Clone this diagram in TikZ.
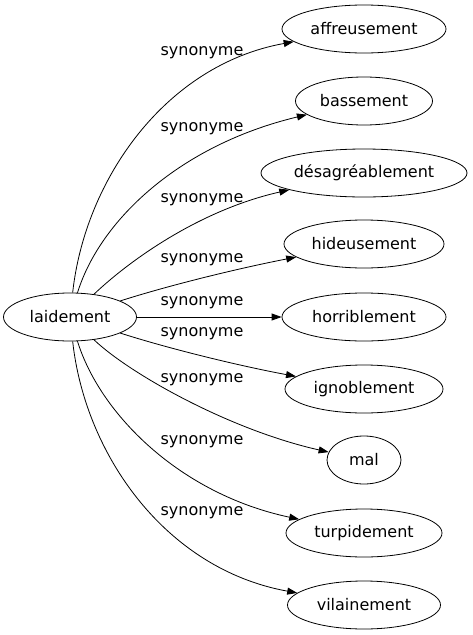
\documentclass[tikz,border=0pt]{standalone}
\usepackage{fontspec}
\setmainfont{DejaVu Sans}
\usetikzlibrary{arrows.meta,shapes.geometric}

\begin{document}
\begin{tikzpicture}[x=1pt, y=-1pt, >={Triangle[length=10pt,width=7pt]},
    font=\fontsize{16}{19}\selectfont,
    word/.style={ellipse, draw, line width=0.8pt, minimum height=48pt, inner sep=0pt},
    syn/.style={inner sep=0pt},
    link/.style={->, line width=0.8pt}]
    \useasboundingbox (0,0) rectangle (472,635);
    % source word
    \node[word, minimum width=133pt] (laid) at (70,317) {laidement};
    % synonyms
    \node[word, minimum width=164pt] (aff) at (364,29) {affreusement};
    \node[word, minimum width=137pt] (bas) at (364,101) {bassement};
    \node[word, minimum width=206pt] (des) at (364,173) {désagréablement};
    \node[word, minimum width=160pt] (hid) at (364,244) {hideusement};
    \node[word, minimum width=164pt] (hor) at (364,317) {horriblement};
    \node[word, minimum width=158pt] (ign) at (364,389) {ignoblement};
    \node[word, minimum width=74pt] (mal) at (364,460) {mal};
    \node[word, minimum width=156pt] (tur) at (364,533) {turpidement};
    \node[word, minimum width=153pt] (vil) at (364,605) {vilainement};
    % edge labels
    \node[syn] (s1) at (202,53) {synonyme};
    \node[syn] (s2) at (202,129) {synonyme};
    \node[syn] (s3) at (202,200) {synonyme};
    \node[syn] (s4) at (202,260) {synonyme};
    \node[syn] (s5) at (202,303) {synonyme};
    \node[syn] (s6) at (202,334) {synonyme};
    \node[syn] (s7) at (202,380) {synonyme};
    \node[syn] (s8) at (202,442) {synonyme};
    \node[syn] (s9) at (202,513) {synonyme};
    % edges
    \draw[link] (laid) .. controls (85,180) and (165,65) .. (aff);
    \draw[link] (laid) .. controls (100,220) and (180,145) .. (bas);
    \draw[link] (laid) .. controls (130,260) and (200,210) .. (des);
    \draw[link] (laid) .. controls (170,285) and (240,268) .. (hid);
    \draw[link] (laid) -- (hor);
    \draw[link] (laid) .. controls (170,349) and (240,366) .. (ign);
    \draw[link] (laid) .. controls (130,374) and (230,430) .. (mal);
    \draw[link] (laid) .. controls (100,414) and (180,494) .. (tur);
    \draw[link] (laid) .. controls (85,454) and (165,569) .. (vil);
\end{tikzpicture}
\end{document}
